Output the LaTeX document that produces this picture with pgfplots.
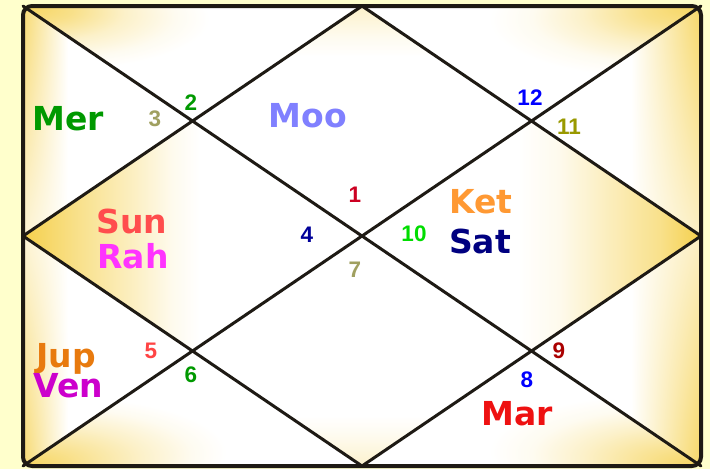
\documentclass[border=0pt]{standalone}
\usepackage{pgfplots}
\pgfplotsset{compat=1.18}
\usepackage{fontspec}
\newfontfamily\vfont{DejaVu Sans}
\newfontfamily\afont{Liberation Sans}
\definecolor{Y}{HTML}{F5D04C}
\definecolor{bg}{HTML}{FFFFCC}
\definecolor{ln}{HTML}{1E1A14}
% diamonds
\pgfdeclarehorizontalshading{h4}{100bp}{color(0bp)=(Y); color(25bp)=(Y); color(33bp)=(Y!65!white); color(41bp)=(Y!35!white); color(47bp)=(Y!10!white); color(51bp)=(white); color(100bp)=(white)}
\pgfdeclarehorizontalshading{h10}{100bp}{color(0bp)=(white); color(48bp)=(white); color(54bp)=(Y!10!white); color(60bp)=(Y!32!white); color(69bp)=(Y!65!white); color(75bp)=(Y); color(100bp)=(Y)}
\pgfdeclareverticalshading{v1}{100bp}{color(0bp)=(white); color(64bp)=(white); color(68bp)=(Y!8!white); color(75bp)=(Y!30!white); color(100bp)=(Y!30!white)}
\pgfdeclareverticalshading{v7}{100bp}{color(0bp)=(Y!28!white); color(25bp)=(Y!28!white); color(32bp)=(Y!8!white); color(36bp)=(white); color(100bp)=(white)}
% side triangles: intensity fades from the outer edge, stronger towards the corner
% house 3 (left, top)
\pgfdeclarefunctionalshading{f3}{\pgfpointorigin}{\pgfpoint{100bp}{100bp}}{}{
 25 sub 50 div 1 exch sub 230 mul
 230 div 0.55 mul 0.8 exch sub
 exch 25 sub 50 div 169.5 mul
 45 div 1 exch sub dup 0 lt {pop 0} if dup 1 gt {pop 1} if
 mul
 dup 0.039 mul 1 exch sub
 exch dup 0.184 mul 1 exch sub
 exch 0.702 mul 1 exch sub
}
% house 5 (left, bottom)
\pgfdeclarefunctionalshading{f5}{\pgfpointorigin}{\pgfpoint{100bp}{100bp}}{}{
 25 sub 50 div 230 mul
 230 div 0.55 mul 0.8 exch sub
 exch 25 sub 50 div 169.5 mul
 45 div 1 exch sub dup 0 lt {pop 0} if dup 1 gt {pop 1} if
 mul
 dup 0.039 mul 1 exch sub
 exch dup 0.184 mul 1 exch sub
 exch 0.702 mul 1 exch sub
}
% house 11 (right, top)
\pgfdeclarefunctionalshading{f11}{\pgfpointorigin}{\pgfpoint{100bp}{100bp}}{}{
 25 sub 50 div 1 exch sub 230 mul
 230 div 0.5 mul 0.85 exch sub
 exch 25 sub 50 div 1 exch sub 169.5 mul
 70 div 1 exch sub dup 0 lt {pop 0} if dup 1 gt {pop 1} if
 mul
 dup 0.039 mul 1 exch sub
 exch dup 0.184 mul 1 exch sub
 exch 0.702 mul 1 exch sub
}
% house 9 (right, bottom)
\pgfdeclarefunctionalshading{f9}{\pgfpointorigin}{\pgfpoint{100bp}{100bp}}{}{
 25 sub 50 div 230 mul
 230 div 0.5 mul 0.85 exch sub
 exch 25 sub 50 div 1 exch sub 169.5 mul
 70 div 1 exch sub dup 0 lt {pop 0} if dup 1 gt {pop 1} if
 mul
 dup 0.039 mul 1 exch sub
 exch dup 0.184 mul 1 exch sub
 exch 0.702 mul 1 exch sub
}
% corner triangles
\pgfdeclareradialshading{rTL}{\pgfpoint{-25bp}{25bp}}{color(0bp)=(Y!90!white); color(6bp)=(Y!65!white); color(12bp)=(Y!30!white); color(18bp)=(Y!8!white); color(22bp)=(white); color(100bp)=(white)}
\pgfdeclareradialshading{rTR}{\pgfpoint{25bp}{25bp}}{color(0bp)=(Y!90!white); color(7bp)=(Y!65!white); color(14bp)=(Y!30!white); color(20bp)=(Y!8!white); color(25bp)=(white); color(100bp)=(white)}
\pgfdeclareradialshading{rBL}{\pgfpoint{-25bp}{-25bp}}{color(0bp)=(Y!90!white); color(7bp)=(Y!60!white); color(14bp)=(Y!30!white); color(20bp)=(Y!8!white); color(24bp)=(white); color(100bp)=(white)}
\pgfdeclareradialshading{rBR}{\pgfpoint{25bp}{-25bp}}{color(0bp)=(Y!90!white); color(7bp)=(Y!60!white); color(14bp)=(Y!30!white); color(20bp)=(Y!8!white); color(25bp)=(white); color(100bp)=(white)}
\begin{document}
\begin{tikzpicture}
\begin{axis}[x=1pt, y=1pt, xmin=0, xmax=710, ymin=0, ymax=469, y dir=reverse,
  hide axis, no markers, clip=false]
% background
\addplot[draw=none, fill=bg] coordinates {(0,0) (710,0) (710,469) (0,469)};
% houses
\addplot[draw=none, shade, shading=v1] coordinates {(362,6) (531.5,121) (362,236) (192.5,121)};
\addplot[draw=none, shade, shading=rTL] coordinates {(23,6) (362,6) (192.5,121)};
\addplot[draw=none, shade, shading=f3] coordinates {(23,6) (192.5,121) (23,236)};
\addplot[draw=none, shade, shading=h4] coordinates {(23,236) (192.5,121) (362,236) (192.5,351)};
\addplot[draw=none, shade, shading=f5] coordinates {(23,236) (192.5,351) (23,466)};
\addplot[draw=none, shade, shading=rBL] coordinates {(23,466) (192.5,351) (362,466)};
\addplot[draw=none, shade, shading=v7] coordinates {(362,236) (531.5,351) (362,466) (192.5,351)};
\addplot[draw=none, shade, shading=rBR] coordinates {(362,466) (531.5,351) (701,466)};
\addplot[draw=none, shade, shading=f9] coordinates {(701,466) (531.5,351) (701,236)};
\addplot[draw=none, shade, shading=h10] coordinates {(701,236) (531.5,351) (362,236) (531.5,121)};
\addplot[draw=none, shade, shading=f11] coordinates {(701,236) (531.5,121) (701,6)};
\addplot[draw=none, shade, shading=rTR] coordinates {(701,6) (531.5,121) (362,6)};
% lines
\addplot[ln, line width=3pt, line cap=round] coordinates {(23,6) (701,466)};
\addplot[ln, line width=3pt, line cap=round] coordinates {(23,466) (701,6)};
\addplot[ln, line width=3pt, line join=round] coordinates {(362,6) (701,236) (362,466) (23,236) (362,6)};
\addplot[ln, line width=4pt, rounded corners=9pt] coordinates {(362,6) (701,6) (701,466) (23,466) (23,6) (362,6)};
% planets
\node[anchor=base, font=\vfont\bfseries\fontsize{33}{36}\selectfont, text={rgb,255:red,0;green,153;blue,0}] at (axis cs:68,130) {Mer};
\node[anchor=base, font=\vfont\bfseries\fontsize{33}{36}\selectfont, text={rgb,255:red,128;green,128;blue,255}] at (axis cs:308,127) {Moo};
\node[anchor=base, font=\vfont\bfseries\fontsize{33}{36}\selectfont, text={rgb,255:red,255;green,77;blue,77}] at (axis cs:132,233) {Sun};
\node[anchor=base, font=\vfont\bfseries\fontsize{33}{36}\selectfont, text={rgb,255:red,255;green,51;blue,255}] at (axis cs:133,268) {Rah};
\node[anchor=base, font=\vfont\bfseries\fontsize{33}{36}\selectfont, text={rgb,255:red,255;green,153;blue,51}] at (axis cs:481,213) {Ket};
\node[anchor=base, font=\vfont\bfseries\fontsize{33}{36}\selectfont, text={rgb,255:red,0;green,0;blue,128}] at (axis cs:480,253) {Sat};
\node[anchor=base, font=\vfont\bfseries\fontsize{33}{36}\selectfont, text={rgb,255:red,232;green,122;blue,14}] at (axis cs:66,367) {Jup};
\node[anchor=base, font=\vfont\bfseries\fontsize{33}{36}\selectfont, text={rgb,255:red,204;green,0;blue,204}] at (axis cs:68.5,397) {Ven};
\node[anchor=base, font=\vfont\bfseries\fontsize{33}{36}\selectfont, text={rgb,255:red,238;green,17;blue,17}] at (axis cs:517,425) {Mar};
% house numbers
\node[anchor=base, font=\afont\bfseries\fontsize{22.5}{24}\selectfont, text={rgb,255:red,204;green,0;blue,34}] at (axis cs:355,202) {1};
\node[anchor=base, font=\afont\bfseries\fontsize{22.5}{24}\selectfont, text={rgb,255:red,0;green,153;blue,0}] at (axis cs:191,110) {2};
\node[anchor=base, font=\afont\bfseries\fontsize{22.5}{24}\selectfont, text={rgb,255:red,160;green,160;blue,96}] at (axis cs:155,126) {3};
\node[anchor=base, font=\afont\bfseries\fontsize{22.5}{24}\selectfont, text={rgb,255:red,0;green,0;blue,153}] at (axis cs:307,242) {4};
\node[anchor=base, font=\afont\bfseries\fontsize{22.5}{24}\selectfont, text={rgb,255:red,255;green,68;blue,68}] at (axis cs:151,358) {5};
\node[anchor=base, font=\afont\bfseries\fontsize{22.5}{24}\selectfont, text={rgb,255:red,0;green,153;blue,0}] at (axis cs:191,382) {6};
\node[anchor=base, font=\afont\bfseries\fontsize{22.5}{24}\selectfont, text={rgb,255:red,160;green,160;blue,96}] at (axis cs:355,277) {7};
\node[anchor=base, font=\afont\bfseries\fontsize{22.5}{24}\selectfont, text={rgb,255:red,0;green,0;blue,255}] at (axis cs:527,387) {8};
\node[anchor=base, font=\afont\bfseries\fontsize{22.5}{24}\selectfont, text={rgb,255:red,170;green,0;blue,0}] at (axis cs:559,358) {9};
\node[anchor=base, font=\afont\bfseries\fontsize{22.5}{24}\selectfont, text={rgb,255:red,0;green,221;blue,0}] at (axis cs:414,241) {10};
\node[anchor=base, font=\afont\bfseries\fontsize{22.5}{24}\selectfont, text={rgb,255:red,153;green,153;blue,0}] at (axis cs:569,134) {11};
\node[anchor=base, font=\afont\bfseries\fontsize{22.5}{24}\selectfont, text={rgb,255:red,0;green,0;blue,255}] at (axis cs:530,105) {12};
\end{axis}
\end{tikzpicture}
\end{document}
